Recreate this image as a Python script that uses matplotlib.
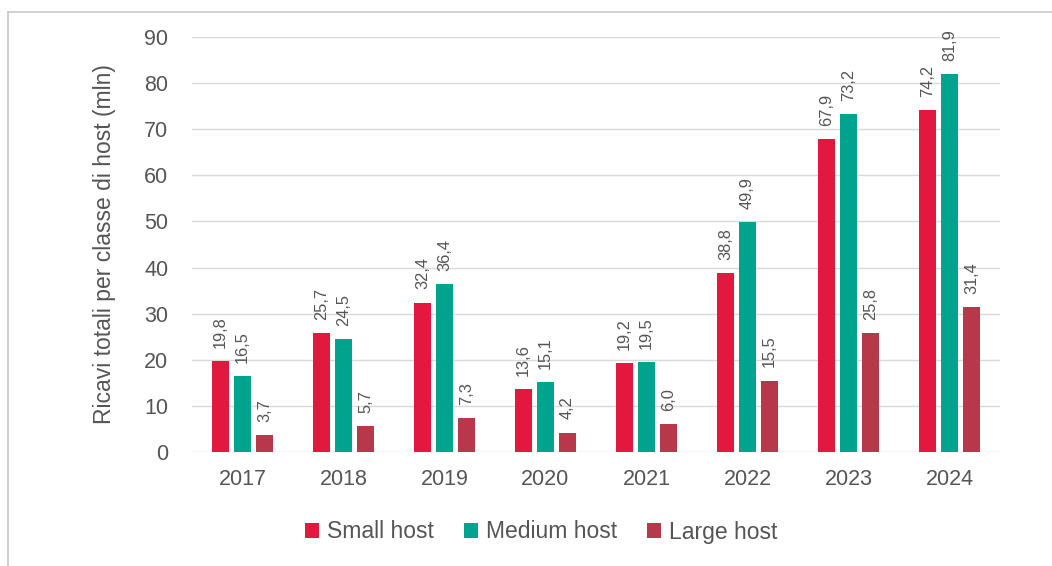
import matplotlib
matplotlib.use("Agg")
import matplotlib.pyplot as plt
import numpy as np
from matplotlib.lines import Line2D

years = ["2017", "2018", "2019", "2020", "2021", "2022", "2023", "2024"]
small_host = [19.8, 25.7, 32.4, 13.6, 19.2, 38.8, 67.9, 74.2]
medium_host = [16.5, 24.5, 36.4, 15.1, 19.5, 49.9, 73.2, 81.9]
large_host = [3.7, 5.7, 7.3, 4.2, 6.0, 15.5, 25.8, 31.4]
series_names = ["Small host", "Medium host", "Large host"]
colors = ["#E2183F", "#00A38D", "#B7384A"]
yticks = [0, 10, 20, 30, 40, 50, 60, 70, 80, 90]

plt.rcParams['font.family'] = ['Liberation Sans', 'DejaVu Sans']
W, H = 1052, 566
fig = plt.figure(figsize=(W/100, H/100), dpi=100)
border_color = "#c8c8c8"
fig.lines.append(Line2D([7.5/W, 7.5/W], [0, 1 - 12/H], transform=fig.transFigure,
                        color=border_color, linewidth=1.2))
fig.lines.append(Line2D([7.5/W, 1], [1 - 12/H, 1 - 12/H], transform=fig.transFigure,
                        color=border_color, linewidth=1.2))
ax = fig.add_axes([192/W, 1 - 452/H, (1000-192)/W, (452-37)/H])

x = np.arange(len(years))
width = 0.173
pitch = 0.219
text_color = "#555555"
for i, (vals, name, c) in enumerate(zip([small_host, medium_host, large_host], series_names, colors)):
    pos = x + (i - 1) * pitch
    ax.bar(pos, vals, width, color=c, label=name, zorder=3)
    for px, v in zip(pos, vals):
        ax.annotate(f"{v:.1f}".replace(".", ","), (px, v), xytext=(0, 9.5),
                    textcoords="offset points", rotation=90, ha="center", va="bottom",
                    fontsize=11.8, color=text_color)

ax.set_xlim(-0.5, len(years) - 0.5)
ax.set_ylim(0, 90)
ax.set_yticks(yticks)
ax.set_yticklabels([str(t) for t in yticks])
ax.set_xticks(x)
ax.set_xticklabels(years)
ax.tick_params(axis="both", length=0, labelsize=15.5, colors=text_color)
ax.tick_params(axis="y", pad=17)
ax.tick_params(axis="x", pad=12)
ax.grid(axis="y", color="#d9d9d9", linewidth=1, zorder=0)
for s in ["top", "right", "left", "bottom"]:
    ax.spines[s].set_visible(False)
ax.set_ylabel("Ricavi totali per classe di host (mln)", fontsize=16.5, color=text_color, labelpad=20)

leg = fig.legend(loc="center", bbox_to_anchor=(541/W, 1 - 532/H), ncol=3, frameon=False,
                 fontsize=16.5, handlelength=0.62, handleheight=0.62, handletextpad=0.35,
                 columnspacing=1.3, labelcolor=text_color)

fig.savefig("out.png", dpi=100)
